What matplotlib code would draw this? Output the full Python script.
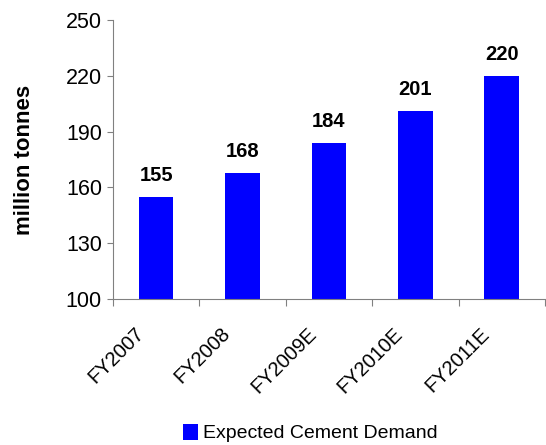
import numpy as np
import matplotlib.pyplot as plt

plt.rcParams['font.family'] = ['Liberation Sans', 'DejaVu Sans']

years = ['FY2007', 'FY2008', 'FY2009E', 'FY2010E', 'FY2011E']
demand = [155, 168, 184, 201, 220]

fig = plt.figure(figsize=(5.46, 4.45), dpi=100)
ax = fig.add_axes([0.207, 0.328, 0.791, 0.627])

x = np.arange(len(years))
bars = ax.bar(x, demand, width=0.4, color='#0000FF', label='Expected Cement Demand')

for xi, v in zip(x, demand):
    ax.text(xi, v + 8.6, str(v), ha='center', va='baseline', fontsize=14.5, fontweight='bold')

ax.set_xlim(-0.5, len(years) - 0.5)
ax.set_ylim(100, 250)
ax.set_yticks(range(100, 251, 30))
ax.tick_params(axis='y', labelsize=15.5, length=4, width=0.8, color='#808080', pad=4)

# category ticks sit between the bars
ax.set_xticks(np.arange(-0.5, len(years), 1))
ax.set_xticklabels([])
ax.tick_params(axis='x', length=5, width=0.8, color='#808080')
for xi, lab in zip(x, years):
    ax.text(xi - 0.18, 100 - 17, lab, rotation=45, ha='right', va='center',
            rotation_mode='anchor', fontsize=14.5)

ax.set_ylabel('million tonnes', fontsize=16, fontweight='bold', labelpad=22)

for side in ['top', 'right']:
    ax.spines[side].set_visible(False)
for side in ['left', 'bottom']:
    ax.spines[side].set_color('#808080')
    ax.spines[side].set_linewidth(0.8)

fig.legend(handles=[bars], labels=['Expected Cement Demand'], loc='center',
           bbox_to_anchor=(0.568, 0.027), frameon=False, fontsize=14,
           handlelength=0.75, handleheight=0.9, handletextpad=0.25,
           borderpad=0, borderaxespad=0)

fig.savefig('out.png', dpi=100)
